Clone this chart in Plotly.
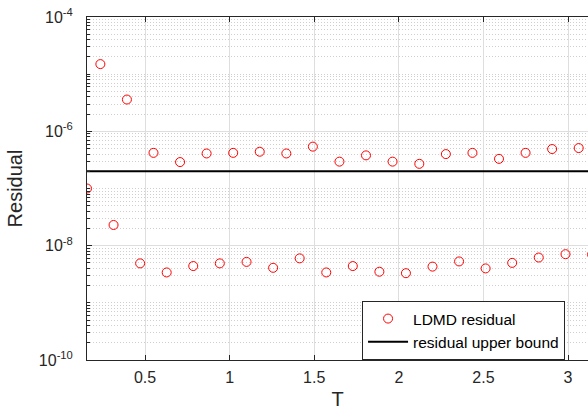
import plotly.graph_objects as go

# Data
T = [0.157, 0.236, 0.314, 0.393, 0.471, 0.550, 0.628, 0.707, 0.785, 0.864,
     0.942, 1.021, 1.100, 1.178, 1.257, 1.335, 1.414, 1.492, 1.571, 1.649,
     1.728, 1.806, 1.885, 1.963, 2.042, 2.121, 2.199, 2.278, 2.356, 2.435,
     2.513, 2.592, 2.670, 2.749, 2.827, 2.906, 2.985, 3.063, 3.142]
residual = [1.0e-7, 1.5e-5, 2.3e-8, 3.6e-6, 4.9e-9, 4.2e-7, 3.4e-9, 2.9e-7, 4.4e-9, 4.1e-7,
            4.9e-9, 4.2e-7, 5.2e-9, 4.4e-7, 4.1e-9, 4.1e-7, 6.0e-9, 5.4e-7, 3.4e-9, 2.95e-7,
            4.4e-9, 3.8e-7, 3.5e-9, 2.95e-7, 3.3e-9, 2.7e-7, 4.3e-9, 4.0e-7, 5.3e-9, 4.2e-7,
            4.0e-9, 3.3e-7, 5.0e-9, 4.2e-7, 6.2e-9, 4.9e-7, 7.1e-9, 5.1e-7, 7.0e-9]
bound_T = [0.157, 3.142]
bound = [2e-7, 2e-7]

x_ticks = [0.5, 1, 1.5, 2, 2.5, 3]
x_ticktext = ["0.5", "1", "1.5", "2", "2.5", "3"]
y_ticks = [1e-10, 1e-8, 1e-6, 1e-4]
y_ticktext = ["10<sup>-10</sup>", "10<sup>-8</sup>", "10<sup>-6</sup>", "10<sup>-4</sup>"]

AX = "#262626"
FONT = "Liberation Sans, Arial, Helvetica, sans-serif"

minor_vals = []
for e in range(-10, -4):
    for m in range(1, 10):
        v = m * 10.0 ** e
        if m == 1 and e in (-10, -8, -6):
            continue
        minor_vals.append(v)

fig = go.Figure()
fig.add_trace(go.Scatter(
    x=T, y=residual, mode="markers", name="LDMD residual",
    marker=dict(symbol="circle-open", size=9, color="#ff0000", line=dict(width=1)),
))
fig.add_trace(go.Scatter(
    x=bound_T, y=bound, mode="lines", name="residual upper bound",
    line=dict(color="black", width=2),
))

fig.update_layout(
    width=588, height=410,
    margin=dict(l=87, r=0, t=17, b=50),
    paper_bgcolor="white", plot_bgcolor="white",
    font=dict(family=FONT, color=AX, size=14),
    showlegend=True,
    legend=dict(
        x=0.549, y=0.172, xanchor="left", yanchor="top",
        bgcolor="white", bordercolor=AX, borderwidth=1,
        font=dict(size=15.5, color="black"),
        tracegroupgap=0, itemwidth=40,
    ),
    xaxis=dict(
        range=[0.157, 3.118], automargin=False,
        tickvals=x_ticks, ticktext=x_ticktext,
        ticks="inside", ticklen=5, tickcolor=AX,
        showline=True, linecolor=AX, linewidth=1, mirror="ticks",
        showgrid=True, gridcolor="#dedede", gridwidth=1,
        zeroline=False,
        tickfont=dict(size=16, color=AX), ticklabelstandoff=3,
        ticklabeloverflow="allow",
        title=dict(text="T", font=dict(size=20, color=AX), standoff=9),
    ),
    yaxis=dict(
        type="log", range=[-10, -4], automargin=False,
        tickvals=y_ticks, ticktext=y_ticktext,
        ticks="inside", ticklen=5, tickcolor=AX,
        showline=True, linecolor=AX, linewidth=1, mirror=False,
        showgrid=True, gridcolor="#dedede", gridwidth=1,
        zeroline=False,
        tickfont=dict(size=16, color=AX), ticklabelstandoff=10,
        ticklabeloverflow="allow",
        title=dict(text="Residual", font=dict(size=20, color=AX), standoff=10),
        minor=dict(
            tickmode="array", tickvals=minor_vals,
            ticks="inside", ticklen=3, tickcolor=AX,
            showgrid=True, gridcolor="#cfcfcf", griddash="1px,2px", gridwidth=1,
        ),
    ),
)

fig.write_html("out.html", config={"displayModeBar": False},
               post_script="document.body.style.margin='0';")
